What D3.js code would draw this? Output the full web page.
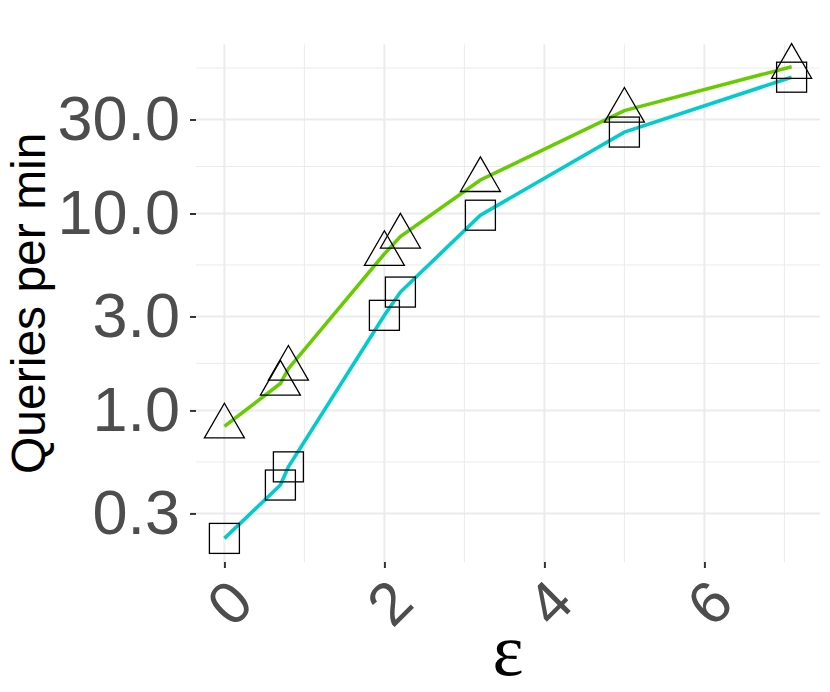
<!DOCTYPE html>
<html>
<head>
<meta charset="utf-8">
<script src="https://cdn.jsdelivr.net/npm/d3@7"></script>
<style>
  html, body { margin: 0; padding: 0; background: #fff; }
  svg { display: block; }
</style>
</head>
<body>
<svg id="chart" width="830" height="692"></svg>
<script>
// ---- data ----
const epsilon = [0, 0.7, 0.8, 2.0, 2.2, 3.2, 5.0, 7.09];
const seriesTriangle = [0.83, 1.37, 1.63, 6.24, 7.64, 14.8, 33.3, 55.6];
const seriesSquare = [0.224, 0.418, 0.517, 3.04, 3.99, 9.8, 25.9, 49.2];
const yTicks = [0.3, 1, 3, 10, 30];
const yTickLabels = ["0.3", "1.0", "3.0", "10.0", "30.0"];
const yMinor = [0.5477, 1.732, 5.477, 17.32, 54.77];
const xTicks = [0, 2, 4, 6];
const xMinor = [1, 3, 5, 7];
const xDomain = [-0.355, 7.445];
const yDomain = [0.170, 72.1];

// ---- layout ----
const panel = { left: 196, right: 820, top: 44.5, bottom: 562 };
const svg = d3.select("#chart");

const x = d3.scaleLinear().domain(xDomain).range([panel.left, panel.right]);
const y = d3.scaleLog().domain(yDomain).range([panel.bottom, panel.top]);

const grid = svg.append("g");
// minor grid
grid.selectAll(".ymin").data(yMinor).join("line")
  .attr("x1", panel.left).attr("x2", panel.right)
  .attr("y1", d => y(d)).attr("y2", d => y(d))
  .attr("stroke", "#EBEBEB").attr("stroke-width", 1);
grid.selectAll(".xmin").data(xMinor).join("line")
  .attr("y1", panel.top).attr("y2", panel.bottom)
  .attr("x1", d => x(d)).attr("x2", d => x(d))
  .attr("stroke", "#EBEBEB").attr("stroke-width", 1);
// major grid
grid.selectAll(".ymaj").data(yTicks).join("line")
  .attr("x1", panel.left).attr("x2", panel.right)
  .attr("y1", d => y(d)).attr("y2", d => y(d))
  .attr("stroke", "#EBEBEB").attr("stroke-width", 2);
grid.selectAll(".xmaj").data(xTicks).join("line")
  .attr("y1", panel.top).attr("y2", panel.bottom)
  .attr("x1", d => x(d)).attr("x2", d => x(d))
  .attr("stroke", "#EBEBEB").attr("stroke-width", 2);

// axes
const yAxis = d3.axisLeft(y).tickValues(yTicks)
  .tickFormat((d, i) => yTickLabels[i]).tickSize(6).tickPadding(10);
const gy = svg.append("g").attr("transform", `translate(${panel.left},0)`).call(yAxis);
gy.select(".domain").remove();
gy.selectAll(".tick line").attr("stroke", "#333333").attr("stroke-width", 2);
gy.selectAll(".tick text")
  .attr("fill", "#4D4D4D")
  .style("font-family", "'Liberation Sans', Arial, sans-serif")
  .style("font-size", "63px");

const xAxis = d3.axisBottom(x).tickValues(xTicks).tickFormat(d3.format("d")).tickSize(6);
const gx = svg.append("g").attr("transform", `translate(0,${panel.bottom})`).call(xAxis);
gx.select(".domain").remove();
gx.selectAll(".tick line").attr("stroke", "#333333").attr("stroke-width", 2);
gx.selectAll(".tick text")
  .attr("fill", "#4D4D4D")
  .style("font-family", "'Liberation Sans', Arial, sans-serif")
  .style("font-size", "60px")
  .attr("text-anchor", "middle")
  .attr("dy", null)
  .attr("y", null)
  .attr("dominant-baseline", "central")
  .attr("transform", "translate(5,41) rotate(-45)");

// lines
const line = d3.line().x((d, i) => x(epsilon[i])).y(d => y(d));
svg.append("path").datum(seriesTriangle)
  .attr("d", line).attr("fill", "none")
  .attr("stroke", "#66CC00").attr("stroke-width", 3.6);
svg.append("path").datum(seriesSquare)
  .attr("d", line).attr("fill", "none")
  .attr("stroke", "#00CCCC").attr("stroke-width", 3.6);

// markers
const triSide = 40, triH = triSide * Math.sqrt(3) / 2;
const triPath = `M0,${-2 * triH / 3}L${triSide / 2},${triH / 3}L${-triSide / 2},${triH / 3}Z`;
svg.append("g").selectAll("path").data(seriesTriangle).join("path")
  .attr("d", triPath)
  .attr("transform", (d, i) => `translate(${x(epsilon[i])},${y(d)})`)
  .attr("fill", "none").attr("stroke", "#000").attr("stroke-width", 1.3);

const sq = 30;
svg.append("g").selectAll("rect").data(seriesSquare).join("rect")
  .attr("x", (d, i) => x(epsilon[i]) - sq / 2)
  .attr("y", d => y(d) - sq / 2)
  .attr("width", sq).attr("height", sq)
  .attr("fill", "none").attr("stroke", "#000").attr("stroke-width", 1.3);

// axis titles
svg.append("text")
  .attr("transform", `translate(45,${(panel.top + panel.bottom) / 2}) rotate(-90)`)
  .attr("text-anchor", "middle")
  .style("font-family", "'Liberation Sans', Arial, sans-serif")
  .style("font-size", "48px")
  .attr("fill", "#000")
  .text("Queries per min");

svg.append("text")
  .attr("x", (panel.left + panel.right) / 2)
  .attr("y", 675)
  .attr("text-anchor", "middle")
  .style("font-family", "'Liberation Serif', 'DejaVu Serif', serif")
  .style("font-size", "74px")
  .attr("fill", "#000")
  .text("ε");
</script>
</body>
</html>
